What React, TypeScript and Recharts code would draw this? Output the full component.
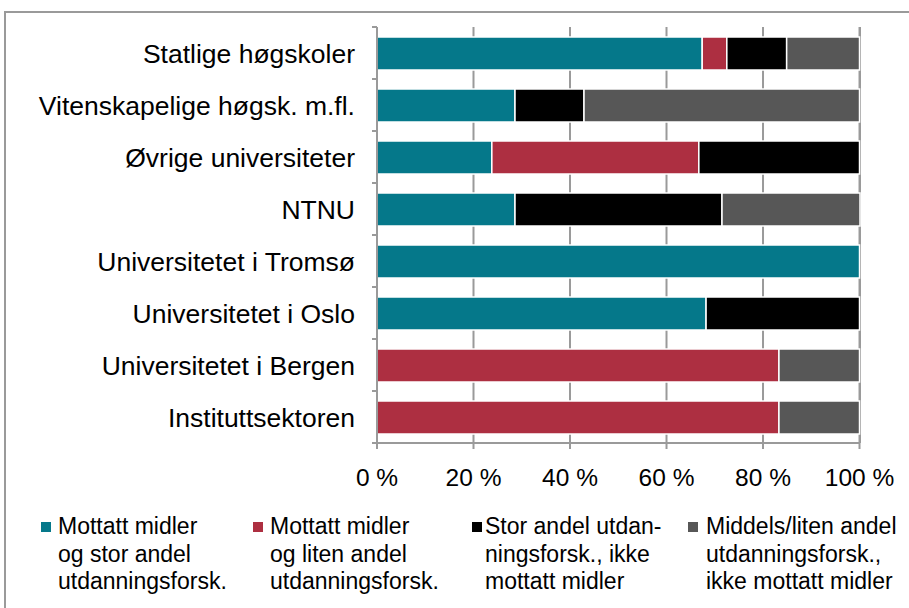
import { BarChart, Bar, XAxis, YAxis, CartesianGrid } from "recharts";

const TEAL = "#05788a";
const RED = "#ad2f41";
const BLACK = "#000000";
const GREY = "#575757";
const AXIS = "#9a9a9a";
const FONT = "'Liberation Sans', Arial, sans-serif";

// ── Data ─────────────────────────────────────────────────────────────────────
const categories = [
  "Statlige høgskoler",
  "Vitenskapelige høgsk. m.fl.",
  "Øvrige universiteter",
  "NTNU",
  "Universitetet i Tromsø",
  "Universitetet i Oslo",
  "Universitetet i Bergen",
  "Instituttsektoren",
];

const mottattStor = [67.4, 28.6, 23.8, 28.6, 100, 68.2, 0, 0];
const mottattLiten = [5.1, 0, 42.9, 0, 0, 0, 83.3, 83.3];
const storIkke = [12.4, 14.3, 33.3, 42.9, 0, 31.8, 0, 0];
const middelsIkke = [15.1, 57.1, 0, 28.6, 0, 0, 16.7, 16.7];

const xTicks = [0, 20, 40, 60, 80, 100];

const seriesNames = [
  ["Mottatt midler", "og stor andel", "utdanningsforsk."],
  ["Mottatt midler", "og liten andel", "utdanningsforsk."],
  ["Stor andel utdan-", "ningsforsk., ikke", "mottatt midler"],
  ["Middels/liten andel", "utdanningsforsk.,", "ikke mottatt midler"],
];
const seriesKeys = ["mottattStor", "mottattLiten", "storIkke", "middelsIkke"];
const seriesColors = [TEAL, RED, BLACK, GREY];

const data = categories.map((name, i) => ({
  name,
  mottattStor: mottattStor[i],
  mottattLiten: mottattLiten[i],
  storIkke: storIkke[i],
  middelsIkke: middelsIkke[i],
}));

// ── Layout ───────────────────────────────────────────────────────────────────
const TOP = 27;
const PLOT_H = 416;
const BAND = PLOT_H / categories.length;
const LEGEND_MARKER_X = [41, 253, 472, 688];
const LEGEND_TEXT_X = [58, 270, 485, 706];

function CategoryTick(props: any) {
  const { x, y, payload } = props;
  return (
    <g>
      <line x1={x + 17} x2={x + 22} y1={y - BAND / 2} y2={y - BAND / 2} stroke={AXIS} strokeWidth={2} />
      {payload.index === categories.length - 1 && (
        <line x1={x + 17} x2={x + 22} y1={y + BAND / 2} y2={y + BAND / 2} stroke={AXIS} strokeWidth={2} />
      )}
      <text x={x} y={y} dy={9.5} textAnchor="end" fill="#000" fontSize={26.5} fontFamily={FONT}>
        {payload.value}
      </text>
    </g>
  );
}

export default function App() {
  return (
    <div
      style={{
        position: "absolute",
        left: 0,
        top: 0,
        width: 909,
        height: 608,
        background: "#fff",
        overflow: "hidden",
        fontFamily: FONT,
      }}
    >
      <div
        style={{
          position: "absolute",
          left: 4,
          top: 11,
          width: 920,
          height: 620,
          border: `2px solid ${AXIS}`,
          boxSizing: "border-box",
        }}
      />
      <div style={{ position: "absolute", left: 0, top: 0 }}>
        <BarChart
          width={909}
          height={500}
          data={data}
          layout="vertical"
          margin={{ top: TOP, right: 49, bottom: 17, left: 0 }}
          barSize={33}
        >
          <CartesianGrid horizontal={false} stroke={AXIS} strokeWidth={2} />
          <XAxis
            type="number"
            domain={[0, 100]}
            ticks={xTicks}
            tickFormatter={(v) => `${v} %`}
            height={40}
            tick={{ fontSize: 24.5, fill: "#000", fontFamily: FONT }}
            tickLine={{ stroke: AXIS, strokeWidth: 2 }}
            tickSize={6}
            tickMargin={20}
            axisLine={{ stroke: AXIS, strokeWidth: 2 }}
          />
          <YAxis
            type="category"
            dataKey="name"
            width={377}
            tick={<CategoryTick />}
            tickLine={false}
            tickSize={0}
            tickMargin={22}
            axisLine={{ stroke: AXIS, strokeWidth: 2 }}
            interval={0}
          />
          {seriesKeys.map((k, i) => (
            <Bar
              key={k}
              dataKey={k}
              stackId="a"
              fill={seriesColors[i]}
              stroke="#fff"
              strokeWidth={1.5}
              isAnimationActive={false}
            />
          ))}
        </BarChart>
      </div>
      {seriesNames.map((lines, i) => (
        <div key={i}>
          <div
            style={{
              position: "absolute",
              left: LEGEND_MARKER_X[i],
              top: 522,
              width: 10,
              height: 10,
              background: seriesColors[i],
            }}
          />
          <div
            style={{
              position: "absolute",
              left: LEGEND_TEXT_X[i],
              top: 513,
              fontSize: 23,
              lineHeight: "27.5px",
              color: "#000",
              whiteSpace: "nowrap",
            }}
          >
            {lines.map((l, j) => (
              <div key={j}>{l}</div>
            ))}
          </div>
        </div>
      ))}
    </div>
  );
}
